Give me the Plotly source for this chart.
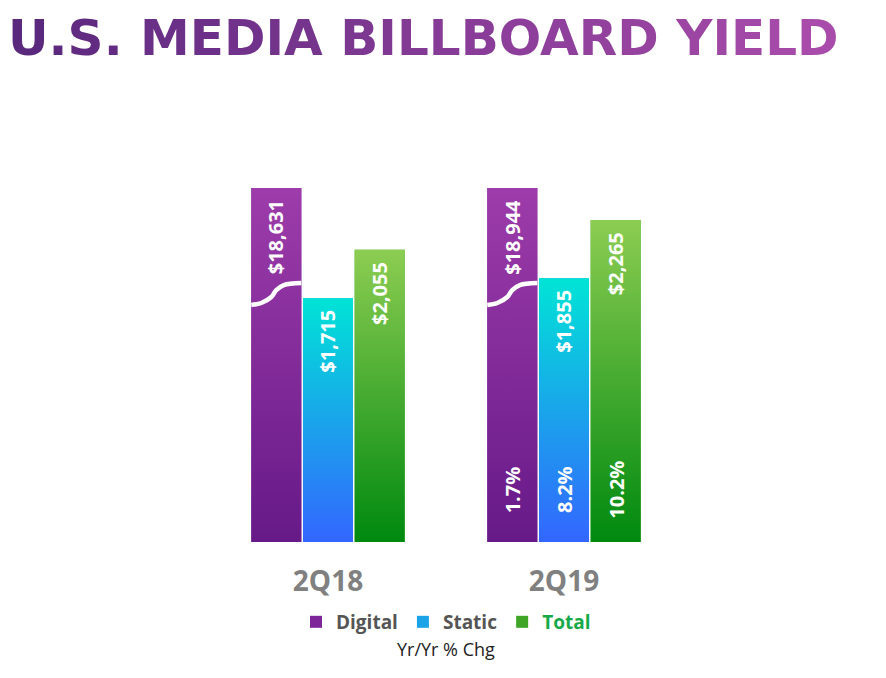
import plotly.graph_objects as go

# ---------------- data ----------------
categories = ["2Q18", "2Q19"]
series_names = ["Digital", "Static", "Total"]
digital_values = [18631, 18944]
static_values = [1715, 1855]
total_values = [2055, 2265]
yoy_labels = ["1.7%", "8.2%", "10.2%"]   # 2Q19 Yr/Yr % change (Digital, Static, Total)

# axis break: Digital bars exceed the scale and are drawn broken at this axis value
AXIS_BREAK_TOP = 2490
BREAK_PROFILE_X = [0.0, 0.2, 0.4, 0.5, 0.65, 1.0]      # fraction of bar width
BREAK_PROFILE_Y = [1667, 1681, 1723, 1772, 1807, 1821]  # axis units

# ---------------- style ----------------
FONT = "Open Sans"
TITLE_FONT = "DejaVu Sans"
gradients = {
    "Digital": ("#661a88", "#9d3caa"),
    "Static": ("#3366ff", "#00e4d6"),
    "Total": ("#00890f", "#8ccd52"),
}
solid = {"Digital": "#7d269a", "Static": "#1aa3e6", "Total": "#3fa526"}
legend_names = {
    "Digital": "Digital",
    "Static": "Static",
    "Total": "<span style='color:#16a94a'>Total</span>",
}
BAR_W = 0.212
SLOT = 0.219
offsets = [-SLOT, 0.0, SLOT]

values = {"Digital": digital_values, "Static": static_values, "Total": total_values}

fig = go.Figure()

# base bars (carry the legend)
for s, name in enumerate(series_names):
    xs = [i + offsets[s] for i in range(len(categories))]
    ys = [min(v, AXIS_BREAK_TOP) for v in values[name]]
    fig.add_trace(go.Bar(
        x=xs, y=ys, width=BAR_W, name=legend_names[name],
        marker=dict(color=solid[name], line=dict(width=0)),
        customdata=values[name], hovertemplate="%{customdata:$,}<extra>" + name + "</extra>",
    ))

# gradient overlays, one per bar
for s, name in enumerate(series_names):
    lo, hi = gradients[name]
    for i in range(len(categories)):
        top = min(values[name][i], AXIS_BREAK_TOP)
        xc = i + offsets[s]
        x0, x1 = xc - BAR_W / 2, xc + BAR_W / 2
        fig.add_trace(go.Scatter(
            x=[x0, x1, x1, x0, x0], y=[0, 0, top, top, 0],
            mode="lines", fill="toself", line=dict(width=0),
            fillgradient=dict(type="vertical", colorscale=[[0, lo], [1, hi]],
                              start=0, stop=top),
            showlegend=False, hoverinfo="skip",
        ))

# axis-break wave on the Digital bars
for i in range(len(categories)):
    if digital_values[i] > AXIS_BREAK_TOP:
        xc = i + offsets[0]
        x0 = xc - BAR_W / 2
        fig.add_trace(go.Scatter(
            x=[x0 + f * BAR_W for f in BREAK_PROFILE_X], y=BREAK_PROFILE_Y,
            mode="lines", line=dict(color="white", width=4.5, shape="spline", smoothing=1.0),
            showlegend=False, hoverinfo="skip",
        ))

annotations = []
# value labels near top of each bar
for s, name in enumerate(series_names):
    for i in range(len(categories)):
        v = values[name][i]
        annotations.append(dict(
            x=i + offsets[s], y=min(v, AXIS_BREAK_TOP), xref="x", yref="y",
            text=f"<b>${v:,}</b>", showarrow=False, textangle=-90,
            xanchor="center", yanchor="top", yshift=-10,
            font=dict(family=FONT, size=20, color="white"),
        ))
# Yr/Yr % change labels at the bottom of the 2Q19 bars
for s, lab in enumerate(yoy_labels):
    annotations.append(dict(
        x=1 + offsets[s], y=0, xref="x", yref="y",
        text=f"<b>{lab}</b>", showarrow=False, textangle=-90,
        xanchor="center", yanchor="middle", yshift=52,
        font=dict(family=FONT, size=20, color="white"),
    ))
annotations.append(dict(
    x=0.5, y=-0.273, xref="paper", yref="paper", text="Yr/Yr % Chg",
    showarrow=False, xanchor="center", yanchor="middle",
    font=dict(family=FONT, size=18, color="#222222"),
))

# title with left-to-right purple gradient
title_text = "U.S. MEDIA BILLBOARD YIELD"
c0 = (0x5a, 0x28, 0x7d)
c1 = (0xa8, 0x4b, 0xaa)
parts = []
n = len(title_text)
for k, ch in enumerate(title_text):
    t = k / (n - 1)
    col = tuple(round(c0[j] + (c1[j] - c0[j]) * t) for j in range(3))
    parts.append(f"<span style='color:#{col[0]:02x}{col[1]:02x}{col[2]:02x}'>{ch}</span>")
title_html = "<b>" + "".join(parts) + "</b>"

# page body has an 8px margin, so the figure is 8px smaller and shifted accordingly
W, H = 878, 670
fig.update_layout(
    width=W, height=H,
    margin=dict(l=202, r=204, t=142, b=136),
    paper_bgcolor="white", plot_bgcolor="white",
    barmode="overlay",
    title=dict(text=title_html, x=0.0, xanchor="left", xref="container",
               y=1 - 29 / H, yref="container", yanchor="middle",
               pad=dict(l=0, r=0, t=0, b=0),
               font=dict(family=TITLE_FONT, size=50)),
    xaxis=dict(range=[-0.5, 1.5], tickmode="array", tickvals=list(range(len(categories))),
               ticktext=categories, showgrid=False, zeroline=False, showline=False,
               ticks="", ticklabelstandoff=20,
               tickfont=dict(family=FONT, size=28, color="#808080", weight="bold"),
               fixedrange=True),
    yaxis=dict(range=[0, 2757], visible=False, showgrid=False, zeroline=False, fixedrange=True),
    legend=dict(orientation="h", x=0.5, xanchor="center", y=-0.204, yanchor="middle",
                font=dict(family=FONT, size=19, color="#555555", weight="bold"),
                itemwidth=30, traceorder="normal"),
    annotations=annotations,
    showlegend=True,
)

fig.write_html("out.html")
